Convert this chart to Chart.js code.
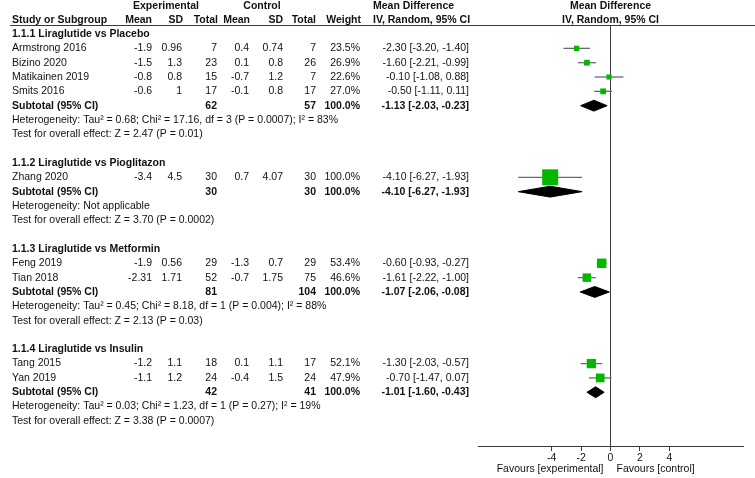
<!DOCTYPE html>
<html>
<head>
<meta charset="utf-8">
<script src="https://cdn.jsdelivr.net/npm/chart.js@4.4.1/dist/chart.umd.min.js"></script>
<style>
  html, body { margin: 0; padding: 0; background: #fff; }
  canvas { display: block; }
</style>
</head>
<body>
<canvas id="forest" width="755" height="478"></canvas>
<script>
// ---- data ----
const groupNames = ['1.1.1 Liraglutide vs Placebo', '1.1.2 Liraglutide vs Pioglitazon',
                    '1.1.3 Liraglutide vs Metformin', '1.1.4 Liraglutide vs Insulin'];
const studies = ['Armstrong 2016', 'Bizino 2020', 'Matikainen 2019', 'Smits 2016', 'Zhang 2020',
                 'Feng 2019', 'Tian 2018', 'Tang 2015', 'Yan 2019'];
const studyGroup = [0, 0, 0, 0, 1, 2, 2, 3, 3];
const expMean   = [-1.9, -1.5, -0.8, -0.6, -3.4, -1.9, -2.31, -1.2, -1.1];
const expSD     = [0.96, 1.3, 0.8, 1, 4.5, 0.56, 1.71, 1.1, 1.2];
const expTotal  = [7, 23, 15, 17, 30, 29, 52, 18, 24];
const ctrlMean  = [0.4, 0.1, -0.7, -0.1, 0.7, -1.3, -0.7, 0.1, -0.4];
const ctrlSD    = [0.74, 0.8, 1.2, 0.8, 4.07, 0.7, 1.75, 1.1, 1.5];
const ctrlTotal = [7, 26, 7, 17, 30, 29, 75, 17, 24];
const weight    = [23.5, 26.9, 22.6, 27.0, 100.0, 53.4, 46.6, 52.1, 47.9];
const md        = [-2.30, -1.60, -0.10, -0.50, -4.10, -0.60, -1.61, -1.30, -0.70];
const ciLo      = [-3.20, -2.21, -1.08, -1.11, -6.27, -0.93, -2.22, -2.03, -1.47];
const ciHi      = [-1.40, -0.99, 0.88, 0.11, -1.93, -0.27, -1.00, -0.57, 0.07];

const subMd        = [-1.13, -4.10, -1.07, -1.01];
const subLo        = [-2.03, -6.27, -2.06, -1.60];
const subHi        = [-0.23, -1.93, -0.08, -0.43];
const subExpTotal  = [62, 30, 81, 42];
const subCtrlTotal = [57, 30, 104, 41];
const heterogeneity = [
  'Heterogeneity: Tau² = 0.68; Chi² = 17.16, df = 3 (P = 0.0007); I² = 83%',
  'Heterogeneity: Not applicable',
  'Heterogeneity: Tau² = 0.45; Chi² = 8.18, df = 1 (P = 0.004); I² = 88%',
  'Heterogeneity: Tau² = 0.03; Chi² = 1.23, df = 1 (P = 0.27); I² = 19%'
];
const overallEffect = [
  'Test for overall effect: Z = 2.47 (P = 0.01)',
  'Test for overall effect: Z = 3.70 (P = 0.0002)',
  'Test for overall effect: Z = 2.13 (P = 0.03)',
  'Test for overall effect: Z = 3.38 (P = 0.0007)'
];
const xTicks = [-4, -2, 0, 2, 4];
const xMin = -9, xMax = 9;

// ---- row layout (one row per text line) ----
const rows = [];
groupNames.forEach((g, gi) => {
  rows.push({ kind: 'group', gi });
  studies.forEach((s, si) => { if (studyGroup[si] === gi) rows.push({ kind: 'study', si }); });
  rows.push({ kind: 'sub', gi });
  rows.push({ kind: 'het', gi });
  rows.push({ kind: 'test', gi });
  if (gi < groupNames.length - 1) rows.push({ kind: 'blank' });
});
const rowOfStudy = s => rows.findIndex(r => r.kind === 'study' && r.si === s);
const rowOfSub = g => rows.findIndex(r => r.kind === 'sub' && r.gi === g);
const yMin = -0.63, yMax = rows.length + 0.75;

const GREEN = '#00b800';
const DIAMOND_H = 0.38; // half height of summary diamond, in rows

const datasets = [];
// line of no effect
datasets.push({
  type: 'line', data: [{ x: 0, y: yMin }, { x: 0, y: yMax }],
  borderColor: '#3a3a3a', borderWidth: 1, pointRadius: 0, order: 10
});
// confidence intervals
studies.forEach((s, i) => {
  datasets.push({
    type: 'line', data: [{ x: ciLo[i], y: rowOfStudy(i) }, { x: ciHi[i], y: rowOfStudy(i) }],
    borderColor: '#6a6a6a', borderWidth: 1.3, pointRadius: 0, order: 5
  });
});
// study squares, side grows with weight
datasets.push({
  type: 'scatter',
  data: studies.map((s, i) => ({ x: md[i], y: rowOfStudy(i) })),
  pointStyle: 'rect',
  pointRadius: weight.map(w => (2 + 0.14 * w) / Math.SQRT2),
  backgroundColor: GREEN, borderWidth: 0, order: 1
});
// subtotal diamonds
groupNames.forEach((g, gi) => {
  const r = rowOfSub(gi);
  datasets.push({
    type: 'line',
    data: [{ x: subLo[gi], y: r }, { x: subMd[gi], y: r - DIAMOND_H }, { x: subHi[gi], y: r },
           { x: subMd[gi], y: r + DIAMOND_H }, { x: subLo[gi], y: r }],
    borderColor: '#000', backgroundColor: '#000', borderWidth: 1,
    fill: 'shape', pointRadius: 0, tension: 0, order: 2
  });
});

const FONT = '"Liberation Sans", Arial, sans-serif';
const FS = 10.5;

function txt(ctx, s, x, y, align, bold) {
  ctx.font = (bold ? 'bold ' : '') + FS + 'px ' + FONT;
  ctx.textAlign = align;
  ctx.fillText(s, x, y);
}

// columns (right edges unless noted)
const COL = { name: 12, eMean: 152, eSD: 182, eTot: 217, cMean: 249, cSD: 283, cTot: 316, wt: 360, ci: 469, ciHead: 373 };

const tablePlugin = {
  id: 'table',
  afterDraw(chart) {
    const ctx = chart.ctx, ys = chart.scales.y, xs = chart.scales.x;
    const zx = xs.getPixelForValue(0);
    ctx.save();
    ctx.fillStyle = '#111';
    ctx.textBaseline = 'middle';

    // header
    txt(ctx, 'Experimental', 166, 6.5, 'center', true);
    txt(ctx, 'Control', 262, 6.5, 'center', true);
    txt(ctx, 'Mean Difference', COL.ciHead, 6.5, 'left', true);
    txt(ctx, 'Mean Difference', zx, 6.5, 'center', true);
    txt(ctx, 'Study or Subgroup', COL.name, 20.5, 'left', true);
    txt(ctx, 'Mean', COL.eMean, 20.5, 'right', true);
    txt(ctx, 'SD', COL.eSD + 1, 20.5, 'right', true);
    txt(ctx, 'Total', COL.eTot + 1, 20.5, 'right', true);
    txt(ctx, 'Mean', 250, 20.5, 'right', true);
    txt(ctx, 'SD', COL.cSD, 20.5, 'right', true);
    txt(ctx, 'Total', COL.cTot, 20.5, 'right', true);
    txt(ctx, 'Weight', COL.wt + 1, 20.5, 'right', true);
    txt(ctx, 'IV, Random, 95% CI', COL.ciHead, 20.5, 'left', true);
    txt(ctx, 'IV, Random, 95% CI', zx, 20.5, 'center', true);

    ctx.strokeStyle = '#3a3a3a';
    ctx.lineWidth = 1;
    ctx.beginPath();
    ctx.moveTo(10, 25.5);
    ctx.lineTo(755, 25.5);
    ctx.stroke();

    const fmtCI = (m, l, h) => `${m.toFixed(2)} [${l.toFixed(2)}, ${h.toFixed(2)}]`;
    rows.forEach((r, ri) => {
      const y = ys.getPixelForValue(ri);
      if (r.kind === 'group') {
        txt(ctx, groupNames[r.gi], COL.name, y, 'left', true);
      } else if (r.kind === 'study') {
        const i = r.si;
        txt(ctx, studies[i], COL.name, y, 'left', false);
        txt(ctx, String(expMean[i]), COL.eMean, y, 'right', false);
        txt(ctx, String(expSD[i]), COL.eSD, y, 'right', false);
        txt(ctx, String(expTotal[i]), COL.eTot, y, 'right', false);
        txt(ctx, String(ctrlMean[i]), COL.cMean, y, 'right', false);
        txt(ctx, String(ctrlSD[i]), COL.cSD, y, 'right', false);
        txt(ctx, String(ctrlTotal[i]), COL.cTot, y, 'right', false);
        txt(ctx, weight[i].toFixed(1) + '%', COL.wt, y, 'right', false);
        txt(ctx, fmtCI(md[i], ciLo[i], ciHi[i]), COL.ci, y, 'right', false);
      } else if (r.kind === 'sub') {
        const g = r.gi;
        txt(ctx, 'Subtotal (95% CI)', COL.name, y, 'left', true);
        txt(ctx, String(subExpTotal[g]), COL.eTot, y, 'right', true);
        txt(ctx, String(subCtrlTotal[g]), COL.cTot, y, 'right', true);
        txt(ctx, '100.0%', COL.wt, y, 'right', true);
        txt(ctx, fmtCI(subMd[g], subLo[g], subHi[g]), COL.ci, y, 'right', true);
      } else if (r.kind === 'het') {
        txt(ctx, heterogeneity[r.gi], COL.name, y, 'left', false);
      } else if (r.kind === 'test') {
        txt(ctx, overallEffect[r.gi], COL.name, y, 'left', false);
      }
    });

    // axis captions
    txt(ctx, 'Favours [experimental]', zx - 7, 469.5, 'right', false);
    txt(ctx, 'Favours [control]', zx + 6, 469.5, 'left', false);
    ctx.restore();
  }
};

new Chart(document.getElementById('forest'), {
  type: 'scatter',
  data: { datasets },
  options: {
    responsive: false,
    animation: false,
    layout: { padding: { left: 478, right: 12, top: 25, bottom: 0 } },
    plugins: { legend: { display: false }, tooltip: { enabled: false } },
    scales: {
      x: {
        type: 'linear', min: xMin, max: xMax, position: 'bottom',
        afterBuildTicks: scale => { scale.ticks = xTicks.map(v => ({ value: v })); },
        afterFit: scale => { scale.height = 32; },
        grid: { display: true, drawOnChartArea: false, drawTicks: true, tickLength: 5, color: '#3a3a3a', lineWidth: 1 },
        border: { display: true, color: '#3a3a3a', width: 1 },
        ticks: { color: '#111', padding: 1, maxRotation: 0, font: { family: FONT, size: FS } }
      },
      y: { type: 'linear', display: false, reverse: true, min: yMin, max: yMax }
    }
  },
  plugins: [tablePlugin]
});
</script>
</body>
</html>
